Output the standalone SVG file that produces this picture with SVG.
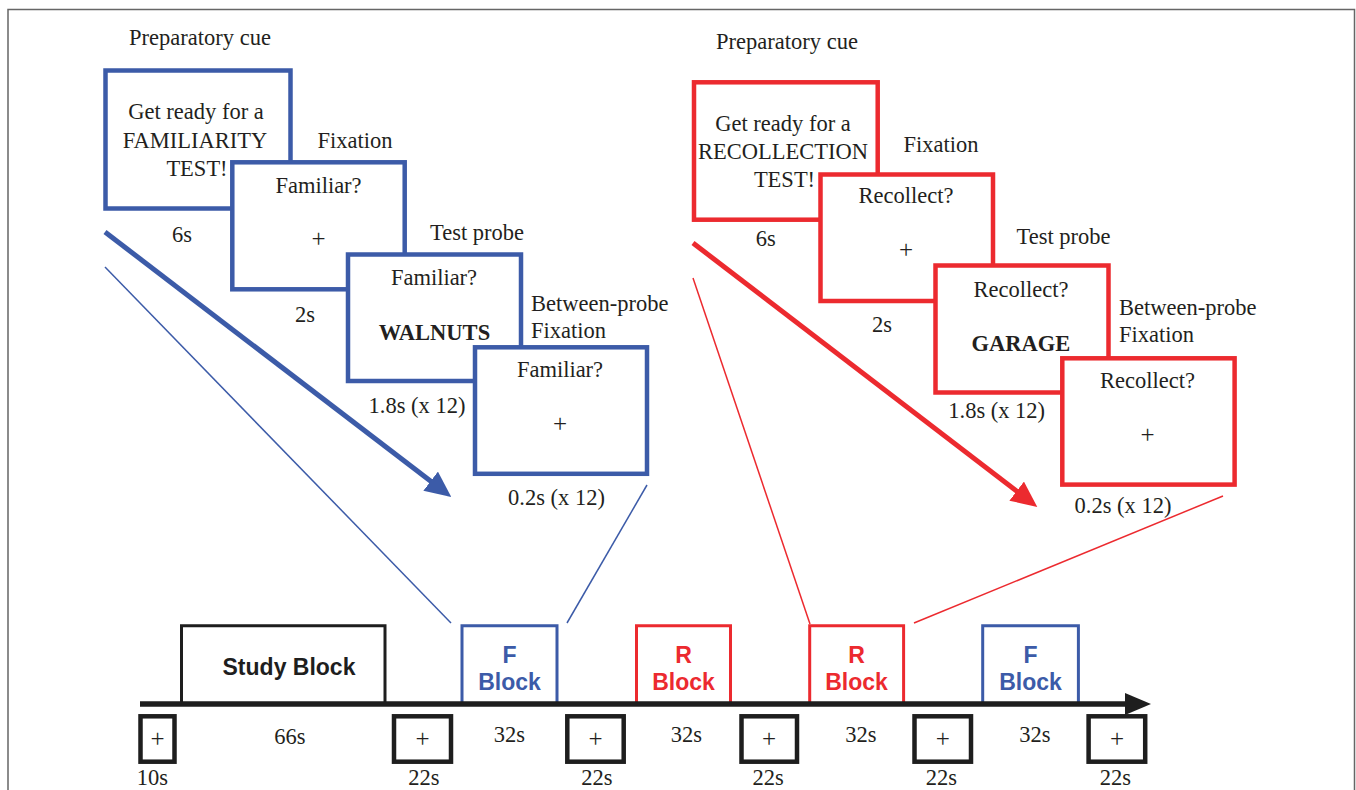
<svg xmlns="http://www.w3.org/2000/svg" width="1356" height="790" viewBox="0 0 1356 790">
<style>
.t{font-family:"Liberation Serif","Times New Roman",serif;font-size:22.5px;fill:#231f20}
.c{text-anchor:middle}
.b{font-weight:bold}
.p{font-size:25px}
.s{font-family:"Liberation Sans",Arial,sans-serif;font-size:23px;font-weight:bold;text-anchor:middle}
.bl{fill:#fff;stroke:#3c5ba8;stroke-width:4.5}
.rd{fill:#fff;stroke:#ec2a2f;stroke-width:4.5}
.tb{fill:#fff;stroke:#1e1e1e;stroke-width:4.5}
.blk{fill:none;stroke-width:3}
</style>
<defs>
<marker id="ab" markerUnits="userSpaceOnUse" markerWidth="26" markerHeight="24" viewBox="0 0 26 24" refX="8" refY="12" orient="auto"><path d="M0,0 L26,12 L0,24 z" fill="#3c5ba8"/></marker>
<marker id="ar" markerUnits="userSpaceOnUse" markerWidth="26" markerHeight="24" viewBox="0 0 26 24" refX="8" refY="12" orient="auto"><path d="M0,0 L26,12 L0,24 z" fill="#ec2a2f"/></marker>
<marker id="ak" markerUnits="userSpaceOnUse" markerWidth="26" markerHeight="22" viewBox="0 0 26 22" refX="6" refY="11" orient="auto"><path d="M0,0 L26,11 L0,22 z" fill="#1e1e1e"/></marker>
</defs>
<rect width="1356" height="790" fill="#fff"/>
<path d="M8,800 V9.5 H1354.5 V800" fill="none" stroke="#666" stroke-width="1.5"/>

<g id="connectors">
<line x1="105" y1="232" x2="437" y2="486" stroke="#3c5ba8" stroke-width="5" marker-end="url(#ab)"/>
<line x1="105" y1="267" x2="451" y2="623" stroke="#3c5ba8" stroke-width="1.5"/>
<line x1="647" y1="485" x2="567" y2="623" stroke="#3c5ba8" stroke-width="1.5"/>
<line x1="693" y1="243" x2="1023" y2="496" stroke="#ec2a2f" stroke-width="5" marker-end="url(#ar)"/>
<line x1="693" y1="278" x2="810" y2="624" stroke="#ec2a2f" stroke-width="1.5"/>
<line x1="1223" y1="496" x2="914" y2="623" stroke="#ec2a2f" stroke-width="1.5"/>
</g>

<g id="familiarity-sequence">
<text class="t c" x="200" y="45">Preparatory cue</text>
<g id="f-cue">
<rect class="bl" x="105.5" y="70.5" width="185" height="138"/>
<text class="t c" x="196" y="119">Get ready for a</text>
<text class="t c" x="195" y="147.5">FAMILIARITY</text>
<text class="t c" x="197" y="175.5">TEST!</text>
<text class="t c" x="182" y="242">6s</text>
</g>
<text class="t c" x="355" y="147.5">Fixation</text>
<g id="f-fix">
<rect class="bl" x="232.3" y="162.3" width="172.4" height="127"/>
<text class="t c" x="318.5" y="192.7">Familiar?</text>
<text class="t c p" x="318.5" y="247">+</text>
<text class="t c" x="305" y="322">2s</text>
</g>
<text class="t c" x="477" y="240">Test probe</text>
<g id="f-probe">
<rect class="bl" x="348" y="254.5" width="173" height="126.5"/>
<text class="t c" x="434" y="285">Familiar?</text>
<text class="t c b" x="434.5" y="340">WALNUTS</text>
<text class="t c" x="417" y="412.7">1.8s (x 12)</text>
</g>
<text class="t" x="531" y="310.7">Between-probe</text>
<text class="t" x="531" y="338.3">Fixation</text>
<g id="f-bfix">
<rect class="bl" x="475" y="347.3" width="172" height="126.5"/>
<text class="t c" x="560" y="376.7">Familiar?</text>
<text class="t c p" x="560" y="432">+</text>
<text class="t c" x="556.5" y="505">0.2s (x 12)</text>
</g>
</g>

<g id="recollection-sequence">
<text class="t c" x="787" y="49.3">Preparatory cue</text>
<g id="r-cue">
<rect class="rd" x="694" y="82.3" width="183.7" height="137.4"/>
<text class="t c" x="783" y="130.7">Get ready for a</text>
<text class="t c" x="783" y="159.3">RECOLLECTION</text>
<text class="t c" x="784.5" y="186.7">TEST!</text>
<text class="t c" x="765.7" y="245.7">6s</text>
</g>
<text class="t c" x="941" y="151.7">Fixation</text>
<g id="r-fix">
<rect class="rd" x="820.5" y="174.5" width="172.5" height="126.5"/>
<text class="t c" x="906" y="203.3">Recollect?</text>
<text class="t c p" x="906" y="258">+</text>
<text class="t c" x="882" y="332">2s</text>
</g>
<text class="t c" x="1063.5" y="244">Test probe</text>
<g id="r-probe">
<rect class="rd" x="935.5" y="265.5" width="173" height="127"/>
<text class="t c" x="1021" y="296.7">Recollect?</text>
<text class="t c b" x="1021" y="350.7">GARAGE</text>
<text class="t c" x="996.7" y="418.3">1.8s (x 12)</text>
</g>
<text class="t" x="1119" y="315">Between-probe</text>
<text class="t" x="1119" y="341.7">Fixation</text>
<g id="r-bfix">
<rect class="rd" x="1062.3" y="358.3" width="172.3" height="126.3"/>
<text class="t c" x="1147.5" y="388.3">Recollect?</text>
<text class="t c p" x="1147.5" y="443">+</text>
<text class="t c" x="1123" y="513.3">0.2s (x 12)</text>
</g>
</g>

<g id="timeline">
<g id="study-block">
<path class="blk" d="M181.5,702 V625.8 H385 V702" stroke="#1e1e1e"/>
<text class="s" x="289" y="675" fill="#1e1e1e">Study Block</text>
<text class="t c" x="290" y="744">66s</text>
</g>
<g id="f-block-1">
<path class="blk" d="M462,702 V625.8 H557 V702" stroke="#3c5ba8"/>
<text class="s" x="509.5" y="663.3" fill="#3c5ba8">F</text>
<text class="s" x="509.5" y="690" fill="#3c5ba8">Block</text>
<text class="t c" x="509.5" y="742">32s</text>
</g>
<g id="r-block-1">
<path class="blk" d="M636.5,702 V625.8 H730.5 V702" stroke="#ec2a2f"/>
<text class="s" x="683.5" y="663.3" fill="#ec2a2f">R</text>
<text class="s" x="683.5" y="690" fill="#ec2a2f">Block</text>
<text class="t c" x="686.5" y="742">32s</text>
</g>
<g id="r-block-2">
<path class="blk" d="M809.7,702 V625.8 H903.6 V702" stroke="#ec2a2f"/>
<text class="s" x="856.5" y="663.3" fill="#ec2a2f">R</text>
<text class="s" x="856.5" y="690" fill="#ec2a2f">Block</text>
<text class="t c" x="860.8" y="742">32s</text>
</g>
<g id="f-block-2">
<path class="blk" d="M982.7,702 V625.8 H1078.4 V702" stroke="#3c5ba8"/>
<text class="s" x="1030.5" y="663.3" fill="#3c5ba8">F</text>
<text class="s" x="1030.5" y="690" fill="#3c5ba8">Block</text>
<text class="t c" x="1035" y="742">32s</text>
</g>
<line id="time-axis" x1="140" y1="704" x2="1131" y2="704" stroke="#1e1e1e" stroke-width="5.5" marker-end="url(#ak)"/>
<g id="fix-1">
<rect class="tb" x="140.5" y="716.3" width="34" height="45.4"/>
<text class="t c p" x="157.5" y="747">+</text>
<text class="t c" x="152.5" y="785">10s</text>
</g>
<g id="fix-2">
<rect class="tb" x="394" y="716.3" width="57" height="45.4"/>
<text class="t c p" x="422.5" y="747">+</text>
<text class="t c" x="424" y="785">22s</text>
</g>
<g id="fix-3">
<rect class="tb" x="567.3" y="716.3" width="56.4" height="45.4"/>
<text class="t c p" x="595.5" y="747">+</text>
<text class="t c" x="597" y="785">22s</text>
</g>
<g id="fix-4">
<rect class="tb" x="741.5" y="716.3" width="55.5" height="45.4"/>
<text class="t c p" x="769" y="747">+</text>
<text class="t c" x="768.2" y="785">22s</text>
</g>
<g id="fix-5">
<rect class="tb" x="914.5" y="716.3" width="56.5" height="45.4"/>
<text class="t c p" x="942.7" y="747">+</text>
<text class="t c" x="941.5" y="785">22s</text>
</g>
<g id="fix-6">
<rect class="tb" x="1088.6" y="716.3" width="56.6" height="45.4"/>
<text class="t c p" x="1117" y="747">+</text>
<text class="t c" x="1115.5" y="785">22s</text>
</g>
</g>
</svg>
